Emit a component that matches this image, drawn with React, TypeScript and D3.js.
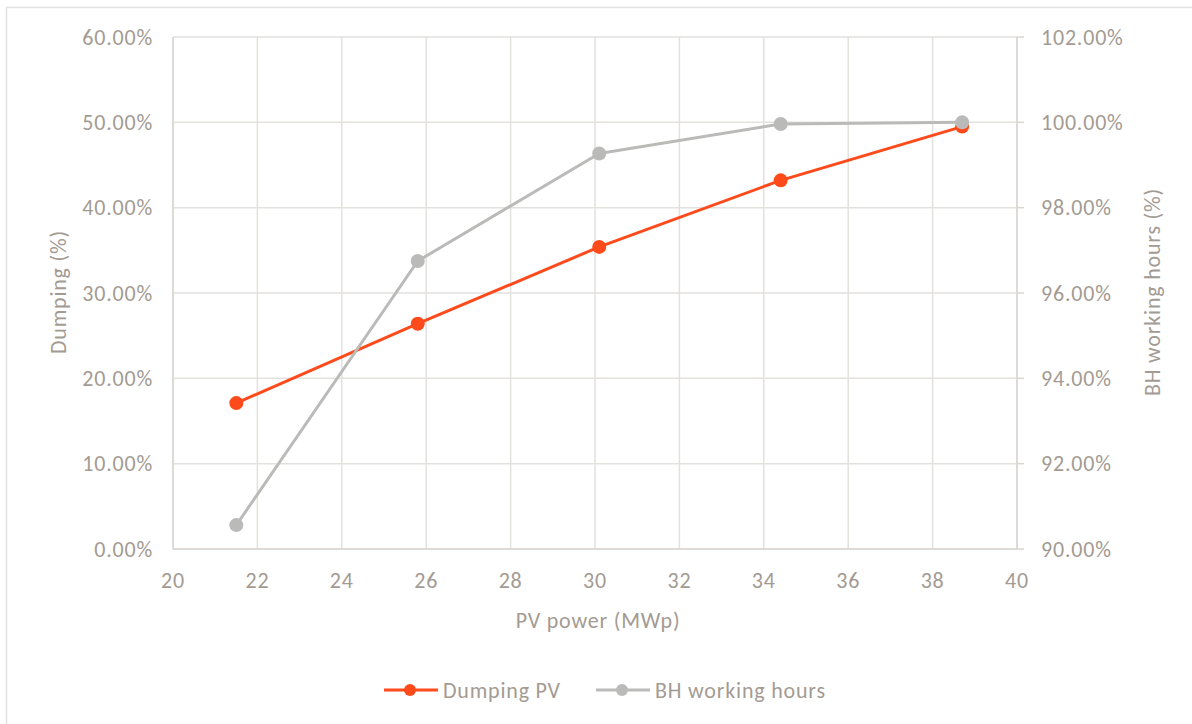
import React, { useEffect, useRef } from "react";
import * as d3 from "d3";

const pvPower = [21.5, 25.8, 30.1, 34.4, 38.7];
const dumpingPV = [17.1, 26.4, 35.4, 43.2, 49.5];
const bhWorkingHours = [90.56, 96.75, 99.27, 99.96, 100.0];
const xTicks = [20, 22, 24, 26, 28, 30, 32, 34, 36, 38, 40];
const leftTicks = [0, 10, 20, 30, 40, 50, 60];
const rightTicks = [90, 92, 94, 96, 98, 100, 102];

const W = 1192;
const H = 724;
const FONT = "Carlito, Calibri, Lato, 'Open Sans', sans-serif";
const TXT = "#A39B93";
const GRID = "#E3E1DE";
const ORANGE = "#FF4B1C";
const GRAY = "#BABBB9";

export default function App() {
  const ref = useRef<SVGSVGElement>(null);
  useEffect(() => {
    const svg = d3.select(ref.current);
    svg.selectAll("*").remove();
    const m = { l: 173, r: 1017, t: 37, b: 549 };
    const x = d3.scaleLinear().domain([20, 40]).range([m.l, m.r]);
    const yL = d3.scaleLinear().domain([0, 60]).range([m.b, m.t]);
    const yR = d3.scaleLinear().domain([90, 102]).range([m.b, m.t]);

    svg.append("rect").attr("x", 0).attr("y", 0).attr("width", W).attr("height", H).attr("fill", "#fff");
    svg.append("rect").attr("x", 6.5).attr("y", 7.5).attr("width", W + 20).attr("height", H + 20)
      .attr("fill", "#fff").attr("stroke", "#E2E1DF").attr("stroke-width", 1.5);

    const g = svg.append("g");
    g.selectAll(".vg").data(xTicks).join("line")
      .attr("x1", d => x(d)).attr("x2", d => x(d)).attr("y1", m.t).attr("y2", m.b)
      .attr("stroke", GRID).attr("stroke-width", 1.5);
    g.selectAll(".hg").data(leftTicks).join("line")
      .attr("x1", m.l).attr("x2", m.r).attr("y1", d => yL(d)).attr("y2", d => yL(d))
      .attr("stroke", GRID).attr("stroke-width", 1.5);
    g.append("line").attr("x1", m.l).attr("x2", m.l).attr("y1", m.t).attr("y2", m.b).attr("stroke", "#D9D6D2").attr("stroke-width", 1.5);
    g.append("line").attr("x1", m.l).attr("x2", m.r).attr("y1", m.b).attr("y2", m.b).attr("stroke", "#D9D6D2").attr("stroke-width", 1.5);
    g.append("line").attr("x1", m.r).attr("x2", m.r).attr("y1", m.t).attr("y2", m.b).attr("stroke", "#D9D6D2").attr("stroke-width", 1.5);
    g.selectAll(".rt").data(rightTicks).join("line")
      .attr("x1", m.r).attr("x2", m.r + 7).attr("y1", d => yR(d)).attr("y2", d => yR(d))
      .attr("stroke", "#D9D6D2").attr("stroke-width", 1.5);

    const fs = 22;
    const ls = 0.8;
    const txt = (sel: any) => sel.attr("font-family", FONT).attr("font-size", fs)
      .attr("letter-spacing", ls).attr("fill", TXT);

    g.selectAll(".lt").data(leftTicks).join("text")
      .attr("x", 153).attr("y", d => yL(d)).attr("dy", "0.35em").attr("text-anchor", "end")
      .call(txt).text(d => d3.format(".2f")(d) + "%");
    g.selectAll(".rtl").data(rightTicks).join("text")
      .attr("x", 1041).attr("y", d => yR(d)).attr("dy", "0.35em").attr("text-anchor", "start")
      .call(txt).text(d => d3.format(".2f")(d) + "%");
    g.selectAll(".xtl").data(xTicks).join("text")
      .attr("x", d => x(d)).attr("y", 580).attr("dy", "0.35em").attr("text-anchor", "middle")
      .call(txt).text(d => String(d));

    g.append("text").attr("transform", "translate(58,292) rotate(-90)").attr("dy", "0.35em")
      .attr("text-anchor", "middle").call(txt).text("Dumping (%)");
    g.append("text").attr("transform", "translate(1152,292) rotate(-90)").attr("dy", "0.35em")
      .attr("text-anchor", "middle").call(txt).text("BH working hours (%)");
    g.append("text").attr("x", 598).attr("y", 620).attr("dy", "0.35em")
      .attr("text-anchor", "middle").call(txt).text("PV power (MWp)");

    const lineL = d3.line<number>().x((_, i) => x(pvPower[i])).y(d => yL(d));
    const lineR = d3.line<number>().x((_, i) => x(pvPower[i])).y(d => yR(d));
    g.append("path").attr("d", lineL(dumpingPV)).attr("fill", "none").attr("stroke", ORANGE).attr("stroke-width", 3).attr("stroke-linejoin", "round");
    g.selectAll(".po").data(dumpingPV).join("circle")
      .attr("cx", (_, i) => x(pvPower[i])).attr("cy", d => yL(d)).attr("r", 7).attr("fill", ORANGE);
    g.append("path").attr("d", lineR(bhWorkingHours)).attr("fill", "none").attr("stroke", GRAY).attr("stroke-width", 3).attr("stroke-linejoin", "round");
    g.selectAll(".pg").data(bhWorkingHours).join("circle")
      .attr("cx", (_, i) => x(pvPower[i])).attr("cy", d => yR(d)).attr("r", 7).attr("fill", GRAY);

    const legend = [
      { name: "Dumping PV", color: ORANGE, x0: 384 },
      { name: "BH working hours", color: GRAY, x0: 596 },
    ];
    const ly = 690;
    legend.forEach(l => {
      g.append("line").attr("x1", l.x0).attr("x2", l.x0 + 54).attr("y1", ly).attr("y2", ly)
        .attr("stroke", l.color).attr("stroke-width", 3);
      g.append("circle").attr("cx", l.x0 + 26).attr("cy", ly).attr("r", 6).attr("fill", l.color);
      g.append("text").attr("x", l.x0 + 59).attr("y", ly).attr("dy", "0.35em")
        .call(txt).text(l.name);
    });
  }, []);
  return (
    <svg ref={ref} width={W} height={H}
      style={{ position: "absolute", left: 0, top: 0, display: "block" }} />
  );
}
